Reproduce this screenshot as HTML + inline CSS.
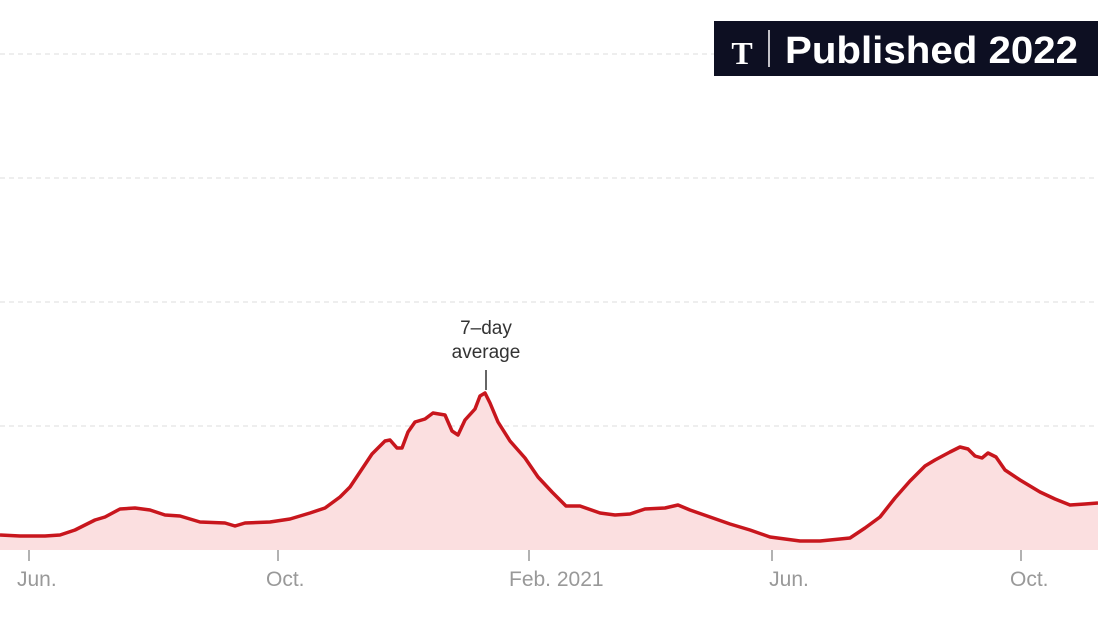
<!DOCTYPE html>
<html><head><meta charset="utf-8"><style>
body{margin:0;background:#fff;}
svg{display:block;font-family:"Liberation Sans",sans-serif;}
</style></head><body>
<svg width="1098" height="618" viewBox="0 0 1098 618">
<g stroke="#ddd" stroke-dasharray="5,4" stroke-width="1">
<line x1="0" y1="54" x2="1098" y2="54"/><line x1="0" y1="178" x2="1098" y2="178"/>
<line x1="0" y1="302" x2="1098" y2="302"/><line x1="0" y1="426" x2="1098" y2="426"/>
</g>
<polygon fill="#fbdfe0" points="0,550 0,535 20,536 45,536 60,535 75,530 95,520 105,517 120,509 135,508 150,510 165,515 180,516 200,522 225,523 235,526 245,523 270,522 290,519 310,513 325,508 340,497 350,487 360,472 372,454 385,441 390,440 397,448 402,448 408,432 415,422 425,419 433,413 445,415 452,431 458,435 465,420 475,409 480,396 485,393 490,403 498,422 510,441 525,458 538,477 552,492 566,506 580,506 600,513 615,515 630,514 645,509 665,508 678,505 690,510 710,517 730,524 750,530 770,537 800,541 820,541 850,538 865,528 880,517 895,498 910,481 925,466 935,460 950,452 960,447 968,449 975,456 982,458 988,453 996,457 1005,470 1020,480 1040,492 1055,499 1070,505 1085,504 1098,503 1098,550"/>
<polyline fill="none" stroke="#c8161d" stroke-width="3.5" stroke-linejoin="round" points="0,535 20,536 45,536 60,535 75,530 95,520 105,517 120,509 135,508 150,510 165,515 180,516 200,522 225,523 235,526 245,523 270,522 290,519 310,513 325,508 340,497 350,487 360,472 372,454 385,441 390,440 397,448 402,448 408,432 415,422 425,419 433,413 445,415 452,431 458,435 465,420 475,409 480,396 485,393 490,403 498,422 510,441 525,458 538,477 552,492 566,506 580,506 600,513 615,515 630,514 645,509 665,508 678,505 690,510 710,517 730,524 750,530 770,537 800,541 820,541 850,538 865,528 880,517 895,498 910,481 925,466 935,460 950,452 960,447 968,449 975,456 982,458 988,453 996,457 1005,470 1020,480 1040,492 1055,499 1070,505 1085,504 1098,503"/>
<line x1="486" y1="370" x2="486" y2="390" stroke="#333" stroke-width="1.5"/>
<text x="486" y="334" text-anchor="middle" font-size="19" fill="#333">7–day</text>
<text x="486" y="358" text-anchor="middle" font-size="19" fill="#333">average</text>
<g stroke="#999" stroke-width="1.5">
<line x1="29" y1="550" x2="29" y2="561"/><line x1="278" y1="550" x2="278" y2="561"/>
<line x1="529" y1="550" x2="529" y2="561"/><line x1="772" y1="550" x2="772" y2="561"/>
<line x1="1021" y1="550" x2="1021" y2="561"/>
</g>
<g font-size="21" fill="#999">
<text x="17" y="586">Jun.</text><text x="266" y="586">Oct.</text>
<text x="509" y="586">Feb. 2021</text><text x="789" y="586" text-anchor="middle">Jun.</text>
<text x="1010" y="586">Oct.</text>
</g>
<rect x="714" y="21" width="384" height="55" fill="#0d0f22"/>
<text x="742" y="64" text-anchor="middle" font-family="Liberation Serif,serif" font-size="32" font-weight="bold" fill="#fff">T</text>
<line x1="769" y1="30" x2="769" y2="67" stroke="#fff" stroke-width="1.5"/>
<text x="785" y="63" font-size="38" font-weight="bold" fill="#fff" textLength="293" lengthAdjust="spacingAndGlyphs">Published 2022</text>
</svg>
</body></html>
